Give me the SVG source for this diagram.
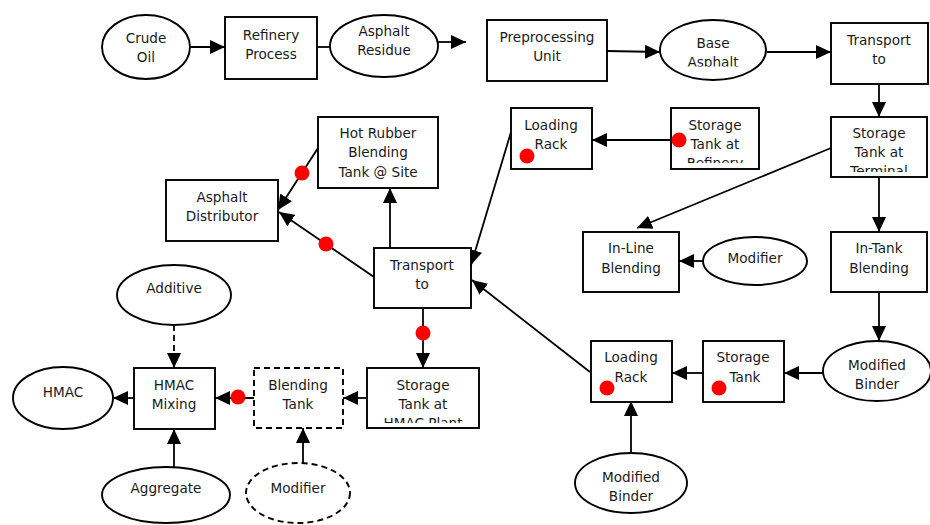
<svg xmlns="http://www.w3.org/2000/svg" width="930" height="525" viewBox="0 0 930 525">
<style>
.n{fill:#fff;stroke:#000;stroke-width:1.9}
.d{stroke-dasharray:6,4}
.t{font-family:"DejaVu Sans",Verdana,sans-serif;font-size:13.6px;fill:#1a1a1a;text-anchor:middle}
.c{fill:none;stroke:#000;stroke-width:1.8}
.dot{fill:#ff0000}
</style>
<defs>
<marker id="ah" markerUnits="userSpaceOnUse" markerWidth="16" markerHeight="16" refX="15" refY="8" orient="auto">
<path d="M0,1 L15,8 L0,15 z" fill="#000"/>
</marker>
<clipPath id="cBase"><rect x="650" y="15" width="130" height="51.5"/></clipPath>
<clipPath id="cRef"><rect x="660" y="100" width="110" height="63"/></clipPath>
<clipPath id="cTerm"><rect x="820" y="110" width="120" height="62"/></clipPath>
<clipPath id="cHmac"><rect x="360" y="360" width="130" height="63"/></clipPath>
</defs>

<g id="connectors">
<line class="c" x1="190" y1="47" x2="225" y2="47" marker-end="url(#ah)"/>
<line class="c" x1="317" y1="47" x2="349" y2="47" marker-end="url(#ah)"/>
<line class="c" x1="438" y1="42" x2="466" y2="42" marker-end="url(#ah)"/>
<line class="c" x1="607" y1="51" x2="660" y2="52" marker-end="url(#ah)"/>
<line class="c" x1="767" y1="52" x2="831" y2="52" marker-end="url(#ah)"/>
<line class="c" x1="879" y1="84" x2="879" y2="117" marker-end="url(#ah)"/>
<line class="c" x1="671" y1="140" x2="592" y2="140" marker-end="url(#ah)"/>
<line class="c" x1="831" y1="148" x2="637" y2="228" marker-end="url(#ah)"/>
<line class="c" x1="879" y1="177" x2="879" y2="232" marker-end="url(#ah)"/>
<line class="c" x1="703" y1="261" x2="679" y2="261" marker-end="url(#ah)"/>
<line class="c" x1="879" y1="292" x2="879" y2="341" marker-end="url(#ah)"/>
<line class="c" x1="823" y1="373" x2="784" y2="373" marker-end="url(#ah)"/>
<line class="c" x1="703" y1="373" x2="672" y2="373" marker-end="url(#ah)"/>
<line class="c" x1="631" y1="453" x2="631" y2="401" marker-end="url(#ah)"/>
<line class="c" x1="590" y1="372" x2="472" y2="280" marker-end="url(#ah)"/>
<line class="c" x1="511" y1="132" x2="471" y2="265" marker-end="url(#ah)"/>
<line class="c" x1="390" y1="248" x2="390" y2="188" marker-end="url(#ah)"/>
<line class="c" x1="318" y1="148" x2="278" y2="210" marker-end="url(#ah)"/>
<line class="c" x1="374" y1="277" x2="279" y2="212" marker-end="url(#ah)"/>
<line class="c" x1="423" y1="308" x2="423" y2="368" marker-end="url(#ah)"/>
<line class="c" x1="367" y1="398" x2="343" y2="398" marker-end="url(#ah)"/>
<line class="c" x1="254" y1="398" x2="215" y2="398" marker-end="url(#ah)"/>
<line class="c" x1="134" y1="398" x2="113" y2="398" marker-end="url(#ah)"/>
<line class="c d" x1="174" y1="325" x2="174" y2="368" marker-end="url(#ah)"/>
<line class="c" x1="174" y1="467" x2="174" y2="429" marker-end="url(#ah)"/>
<line class="c" x1="303" y1="464" x2="303" y2="428" marker-end="url(#ah)"/>
</g>

<g id="crude-oil"><ellipse class="n" cx="146" cy="47" rx="44" ry="32"/><text class="t" x="146" y="43">Crude</text><text class="t" x="146" y="62">Oil</text></g>
<g id="refinery-process"><rect class="n" x="225" y="17" width="92" height="62"/><text class="t" x="271" y="40">Refinery</text><text class="t" x="271" y="59">Process</text></g>
<g id="asphalt-residue"><ellipse class="n" cx="384" cy="46" rx="54" ry="31"/><text class="t" x="384" y="36">Asphalt</text><text class="t" x="384" y="55">Residue</text></g>
<g id="preprocessing-unit"><rect class="n" x="487" y="20" width="120" height="61"/><text class="t" x="547" y="42">Preprocessing</text><text class="t" x="547" y="61">Unit</text></g>
<g id="base-asphalt"><ellipse class="n" cx="713" cy="50" rx="53" ry="30"/><g clip-path="url(#cBase)"><text class="t" x="713" y="48">Base</text><text class="t" x="713" y="67">Asphalt</text></g></g>
<g id="transport-top"><rect class="n" x="831" y="23" width="97" height="61"/><text class="t" x="879" y="45">Transport</text><text class="t" x="879" y="64">to</text></g>

<g id="loading-rack-top"><rect class="n" x="511" y="108" width="81" height="61"/><text class="t" x="551" y="130">Loading</text><text class="t" x="551" y="149">Rack</text><circle class="dot" cx="527" cy="156" r="7.5"/></g>
<g id="storage-refinery"><rect class="n" x="671" y="108" width="88" height="61"/><g clip-path="url(#cRef)"><text class="t" x="715" y="130">Storage</text><text class="t" x="715" y="149">Tank at</text><text class="t" x="715" y="168">Refinery</text></g><circle class="dot" cx="679" cy="140" r="7.5"/></g>
<g id="storage-terminal"><rect class="n" x="831" y="117" width="96" height="60"/><g clip-path="url(#cTerm)"><text class="t" x="879" y="138">Storage</text><text class="t" x="879" y="157">Tank at</text><text class="t" x="879" y="176">Terminal</text></g></g>

<g id="hot-rubber"><rect class="n" x="318" y="117" width="120" height="71"/><text class="t" x="378" y="138">Hot Rubber</text><text class="t" x="378" y="157">Blending</text><text class="t" x="378" y="177">Tank @ Site</text></g>
<g id="asphalt-distributor"><rect class="n" x="166" y="180" width="112" height="61"/><text class="t" x="222" y="202">Asphalt</text><text class="t" x="222" y="221">Distributor</text></g>
<g id="inline-blending"><rect class="n" x="583" y="232" width="96" height="60"/><text class="t" x="631" y="253">In-Line</text><text class="t" x="631" y="273">Blending</text></g>
<g id="modifier-top"><ellipse class="n" cx="755" cy="261" rx="52" ry="24"/><text class="t" x="755" y="263">Modifier</text></g>
<g id="intank-blending"><rect class="n" x="831" y="232" width="96" height="60"/><text class="t" x="879" y="253">In-Tank</text><text class="t" x="879" y="273">Blending</text></g>
<g id="transport-mid"><rect class="n" x="374" y="248" width="97" height="60"/><text class="t" x="422" y="270">Transport</text><text class="t" x="422" y="289">to</text></g>

<g id="additive"><ellipse class="n" cx="174" cy="295" rx="57" ry="30"/><text class="t" x="174" y="293">Additive</text></g>
<g id="hmac"><ellipse class="n" cx="63" cy="398" rx="50" ry="31"/><text class="t" x="63" y="397">HMAC</text></g>
<g id="hmac-mixing"><rect class="n" x="134" y="368" width="81" height="61"/><text class="t" x="174" y="390">HMAC</text><text class="t" x="174" y="409">Mixing</text></g>
<g id="blending-tank"><rect class="n d" x="254" y="368" width="89" height="60"/><text class="t" x="298" y="390">Blending</text><text class="t" x="298" y="409">Tank</text></g>
<g id="storage-hmac"><rect class="n" x="367" y="368" width="112" height="60"/><g clip-path="url(#cHmac)"><text class="t" x="423" y="390">Storage</text><text class="t" x="423" y="409">Tank at</text><text class="t" x="423" y="428">HMAC Plant</text></g></g>
<g id="aggregate"><ellipse class="n" cx="166" cy="495" rx="64" ry="28"/><text class="t" x="166" y="493">Aggregate</text></g>
<g id="modifier-bottom"><ellipse class="n d" cx="298" cy="493" rx="52" ry="30"/><text class="t" x="298" y="493">Modifier</text></g>

<g id="loading-rack-bottom"><rect class="n" x="591" y="341" width="81" height="61"/><text class="t" x="631" y="362">Loading</text><text class="t" x="631" y="382">Rack</text><circle class="dot" cx="607" cy="388" r="7.5"/></g>
<g id="storage-tank"><rect class="n" x="703" y="341" width="81" height="61"/><text class="t" x="743" y="362">Storage</text><text class="t" x="745" y="382">Tank</text><circle class="dot" cx="719" cy="388" r="7.5"/></g>
<g id="modified-binder-right"><ellipse class="n" cx="877" cy="371" rx="54" ry="30"/><text class="t" x="877" y="370">Modified</text><text class="t" x="877" y="389">Binder</text></g>
<g id="modified-binder-bottom"><ellipse class="n" cx="631" cy="483" rx="56" ry="30"/><text class="t" x="631" y="482">Modified</text><text class="t" x="631" y="501">Binder</text></g>

<g id="red-dots">
<circle class="dot" cx="302" cy="173" r="7.5"/>
<circle class="dot" cx="326" cy="244" r="7.5"/>
<circle class="dot" cx="423" cy="333" r="7.5"/>
<circle class="dot" cx="238" cy="397" r="7.5"/>
</g>
</svg>
